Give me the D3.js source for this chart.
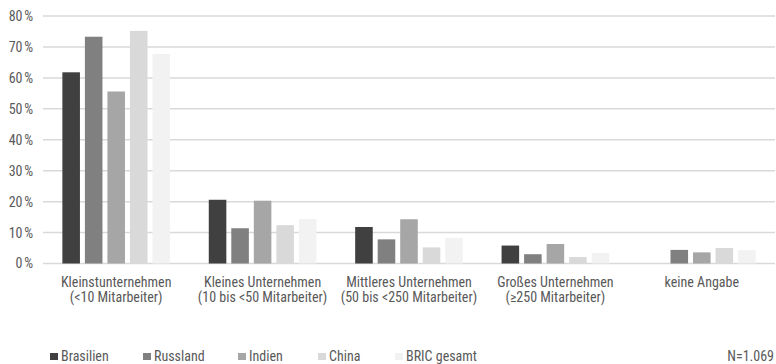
<!DOCTYPE html>
<html><head><meta charset="utf-8">
<script src="https://cdn.jsdelivr.net/npm/d3@7"></script>
<style>
body{margin:0;background:#fff;}
text{font-family:"Roboto Condensed","Liberation Sans Narrow","Arial Narrow",Roboto,sans-serif;fill:#595959;}
</style></head>
<body><svg id="c" width="776" height="364"></svg>
<script>
const categories = [
  ["Kleinstunternehmen","(<10 Mitarbeiter)"],
  ["Kleines Unternehmen","(10 bis <50 Mitarbeiter)"],
  ["Mittleres Unternehmen","(50 bis <250 Mitarbeiter)"],
  ["Großes Unternehmen","(≥250 Mitarbeiter)"],
  ["keine Angabe"]
];
const seriesNames = ["Brasilien","Russland","Indien","China","BRIC gesamt"];
const brasilien = [61.8, 20.6, 11.8, 5.8, null];
const russland  = [73.3, 11.4, 7.8, 3.0, 4.4];
const indien    = [55.6, 20.3, 14.3, 6.3, 3.6];
const china     = [75.2, 12.4, 5.2, 2.1, 5.0];
const bric      = [67.7, 14.4, 8.3, 3.4, 4.3];
const yTicks = [0,10,20,30,40,50,60,70,80];
const note = "N=1.069";

const seriesValues = [brasilien, russland, indien, china, bric];
const colors = ["#404040","#808080","#a6a6a6","#d9d9d9","#f2f2f2"];
const FS = 14;

const svg = d3.select("#c");
const x0 = d3.scaleBand().domain(d3.range(categories.length)).range([43, 775]).padding(0);
const x1 = d3.scaleBand().domain(d3.range(seriesNames.length)).range([0, x0.bandwidth()])
  .paddingInner(0.22).paddingOuter(0.86);
const y = d3.scaleLinear().domain([0, 80]).range([263.5, 16]);

// grid
svg.append("g").selectAll("line").data(yTicks).join("line")
  .attr("x1", 43).attr("x2", 775)
  .attr("y1", d => y(d)).attr("y2", d => y(d))
  .attr("stroke", "#d9d9d9").attr("stroke-width", 1.5);

// y axis labels
const yAxis = d3.axisLeft(y).tickValues(yTicks).tickSize(0).tickPadding(0)
  .tickFormat(d => d + "\u202F%");
const ya = svg.append("g").attr("transform", "translate(33,0)").call(yAxis);
ya.select(".domain").remove();
ya.selectAll("text").attr("font-size", FS).attr("fill", "#595959")
  .style("font-family", null).attr("font-family", null);
ya.attr("font-family", null).attr("font-size", null);

// bars
const g = svg.append("g");
seriesValues.forEach((vals, si) => {
  g.append("g").selectAll("rect").data(vals.map((v, ci) => ({v, ci})).filter(d => d.v != null))
    .join("rect")
    .attr("x", d => x0(d.ci) + x1(si))
    .attr("width", x1.bandwidth())
    .attr("y", d => y(d.v))
    .attr("height", d => y(0) - y(d.v))
    .attr("fill", colors[si]);
});

// category labels
const cl = svg.append("g").selectAll("text").data(categories).join("text")
  .attr("x", (d, i) => x0(i) + x0.bandwidth() / 2)
  .attr("y", 286.5)
  .attr("text-anchor", "middle")
  .attr("font-size", FS);
cl.selectAll("tspan").data(d => d).join("tspan")
  .attr("x", function() { return d3.select(this.parentNode).attr("x"); })
  .attr("dy", (d, i) => i === 0 ? 0 : 15)
  .text(d => d);

// legend
const legendX = [50, 143, 238, 318, 395];
const lg = svg.append("g").selectAll("g").data(seriesNames).join("g")
  .attr("transform", (d, i) => `translate(${legendX[i]},353)`);
lg.append("rect").attr("x", 0).attr("y", 0).attr("width", 8).attr("height", 7)
  .attr("fill", (d, i) => colors[i]);
lg.append("text").attr("x", 11).attr("y", 7.5).attr("font-size", FS).text(d => d);

svg.append("text").attr("x", 774).attr("y", 360.5).attr("text-anchor", "end")
  .attr("font-size", FS).text(note);
</script></body></html>
